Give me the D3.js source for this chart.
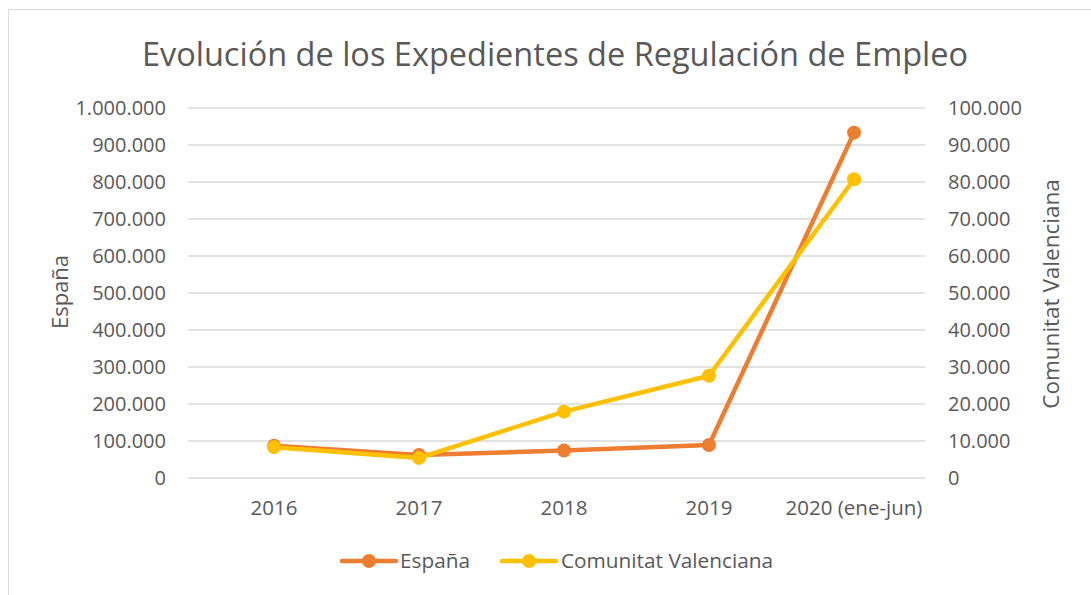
<!DOCTYPE html>
<html>
<head>
<meta charset="utf-8">
<script src="https://cdn.jsdelivr.net/npm/d3@7"></script>
<style>
  body { margin: 0; background: #fff; }
  svg text { font-family: "Open Sans", sans-serif; fill: #595959; }
</style>
</head>
<body>
<svg id="chart" width="1091" height="595"></svg>
<script>
// Chart data
var categories = ['2016', '2017', '2018', '2019', '2020 (ene-jun)'];
var espana = [86000, 61000, 73000, 88000, 932000];
var valenciana = [8200, 5300, 17800, 27500, 80600];
var leftTicks = [0, 100000, 200000, 300000, 400000, 500000, 600000, 700000, 800000, 900000, 1000000];
var rightTicks = [0, 10000, 20000, 30000, 40000, 50000, 60000, 70000, 80000, 90000, 100000];

var orange = '#ED7D31',
    yellow = '#FFC000';

function fmt(v) {
  // Spanish thousands separator
  return d3.format(',')(v).replace(/,/g, '.');
}

function render() {
  var svg = d3.select('#chart');
  var plot = {left: 188, right: 925, top: 107.5, bottom: 477.5};

  // chart frame
  svg.append('rect')
    .attr('x', 8.5).attr('y', 9.5)
    .attr('width', 1100).attr('height', 600)
    .attr('fill', 'none').attr('stroke', '#d9d9d9');

  var x = d3.scaleBand().domain(categories).range([201.5, 926.5]);
  var yL = d3.scaleLinear().domain([0, 1000000]).range([plot.bottom, plot.top]);
  var yR = d3.scaleLinear().domain([0, 100000]).range([plot.bottom, plot.top]);

  // left axis with gridlines
  var gl = svg.append('g')
    .attr('transform', 'translate(' + plot.left + ',0)')
    .call(d3.axisRight(yL).tickValues(leftTicks).tickSize(plot.right - plot.left).tickFormat(''));
  gl.select('.domain').remove();
  gl.selectAll('.tick line').attr('stroke', '#d9d9d9').attr('stroke-width', 1.3);

  svg.append('g').selectAll('text')
    .data(leftTicks).enter().append('text')
      .attr('x', 166)
      .attr('y', function(d) { return yL(d); })
      .attr('dy', '0.35em')
      .attr('text-anchor', 'end')
      .attr('font-size', 20)
      .text(fmt);

  svg.append('g').selectAll('text')
    .data(rightTicks).enter().append('text')
      .attr('x', 948)
      .attr('y', function(d) { return yR(d); })
      .attr('dy', '0.35em')
      .attr('font-size', 20)
      .text(fmt);

  // x axis labels
  svg.append('g').selectAll('text')
    .data(categories).enter().append('text')
      .attr('x', function(d) { return x(d) + x.bandwidth() / 2; })
      .attr('y', 508)
      .attr('dy', '0.35em')
      .attr('text-anchor', 'middle')
      .attr('font-size', 20.5)
      .text(function(d) { return d; });

  // title
  svg.append('text')
    .attr('x', 555).attr('y', 66)
    .attr('text-anchor', 'middle')
    .attr('font-size', 32.5)
    .text('Evolución de los Expedientes de Regulación de Empleo');

  // axis titles
  svg.append('text')
    .attr('transform', 'translate(68,292) rotate(-90)')
    .attr('text-anchor', 'middle')
    .attr('font-size', 22)
    .text('España');
  svg.append('text')
    .attr('transform', 'translate(1059,294) rotate(-90)')
    .attr('text-anchor', 'middle')
    .attr('font-size', 22.5)
    .text('Comunitat Valenciana');

  var series = [
    {name: 'España', values: espana, y: yL, color: orange},
    {name: 'Comunitat Valenciana', values: valenciana, y: yR, color: yellow}
  ];

  series.forEach(function(s) {
    var line = d3.line()
      .x(function(d, i) { return x(categories[i]) + x.bandwidth() / 2; })
      .y(function(d) { return s.y(d); });
    svg.append('path')
      .datum(s.values)
      .attr('d', line)
      .attr('fill', 'none')
      .attr('stroke', s.color)
      .attr('stroke-width', 4.5)
      .attr('stroke-linejoin', 'round')
      .attr('stroke-linecap', 'round');
    svg.append('g').selectAll('circle')
      .data(s.values).enter().append('circle')
        .attr('cx', function(d, i) { return x(categories[i]) + x.bandwidth() / 2; })
        .attr('cy', function(d) { return s.y(d); })
        .attr('r', 7)
        .attr('fill', s.color);
  });

  // legend
  var legendPos = [{x: 342, tx: 400}, {x: 502, tx: 561}];
  series.forEach(function(s, i) {
    var g = svg.append('g');
    g.append('line')
      .attr('x1', legendPos[i].x).attr('x2', legendPos[i].x + 54)
      .attr('y1', 561).attr('y2', 561)
      .attr('stroke', s.color).attr('stroke-width', 4.5)
      .attr('stroke-linecap', 'round');
    g.append('circle')
      .attr('cx', legendPos[i].x + 27).attr('cy', 561).attr('r', 7)
      .attr('fill', s.color);
    g.append('text')
      .attr('x', legendPos[i].tx).attr('y', 561)
      .attr('dy', '0.35em')
      .attr('font-size', 20.8)
      .text(s.name);
  });
}

render();
</script>
</body>
</html>
